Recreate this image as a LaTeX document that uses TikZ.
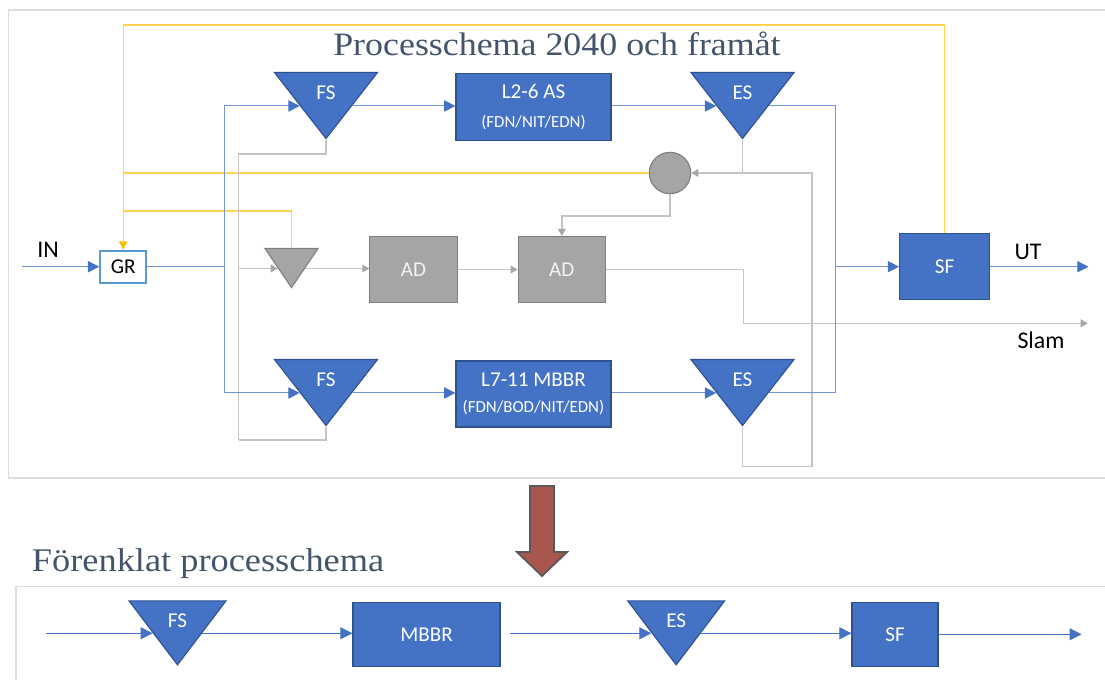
\documentclass[tikz,border=0pt]{standalone}
\usepackage{fontspec}
\setmainfont{Carlito}
\newfontfamily\titlefont[FakeStretch=1.1]{Liberation Serif}
\usetikzlibrary{positioning,shapes.geometric,arrows.meta}
\definecolor{procblue}{HTML}{4472C4}
\definecolor{procedge}{HTML}{2F528F}
\definecolor{waterline}{HTML}{7094D6}
\definecolor{sludgegray}{HTML}{A5A5A5}
\definecolor{sludgeedge}{HTML}{7F7F7F}
\definecolor{sludgetext}{HTML}{F2F2F2}
\definecolor{sludgeline}{HTML}{C4C4C4}
\definecolor{sludgetip}{HTML}{A6A6A6}
\definecolor{rejectline}{HTML}{FFD34F}
\definecolor{rejecttip}{HTML}{FFC000}
\definecolor{grbox}{HTML}{5B9BD5}
\definecolor{framegray}{HTML}{DEDEDE}
\definecolor{headcol}{HTML}{44546A}
\definecolor{downred}{HTML}{A9564E}
\definecolor{downedge}{HTML}{595959}

\begin{document}
\begin{tikzpicture}[x=0.025cm, y=-0.025cm,
  lbl/.style={font=\fontsize{15}{18}\selectfont},
  side/.style={font=\fontsize{17}{20}\selectfont},
  heading/.style={font=\titlefont\fontsize{23.5}{28}\selectfont, text=headcol},
  bluebox/.style={rectangle, fill=procblue, draw=procedge, line width=0.8pt, text=white, lbl, inner sep=0pt},
  graybox/.style={rectangle, fill=sludgegray, draw=sludgeedge, line width=0.8pt, text=sludgetext, lbl, minimum width=2.18cm, minimum height=1.65cm},
  basin/.style={isosceles triangle, isosceles triangle stretches, shape border rotate=270, inner sep=0pt, fill=procblue, draw=procedge, line width=0.8pt, minimum width=2.575cm, minimum height=1.65cm, anchor=apex},
  smallbasin/.style={basin, minimum width=2.425cm, minimum height=1.6cm},
  thickener/.style={basin, fill=sludgegray, draw=sludgeedge, minimum width=1.325cm, minimum height=0.975cm},
  tritext/.style={text=white, lbl},
  water/.style={draw=waterline, line width=0.7pt},
  waterarrow/.style={water, -{Triangle[length=8pt,width=8pt,color=procblue]}},
  simplearrow/.style={draw=procblue, line width=0.7pt, -{Triangle[length=8.5pt,width=8.5pt]}},
  sludge/.style={draw=sludgeline, line width=1pt},
  sludgearrow/.style={sludge, -{Triangle[length=5pt,width=5.5pt,color=sludgetip]}},
  reject/.style={draw=rejectline, line width=0.9pt},
  rejectarrow/.style={reject, -{Triangle[length=6pt,width=6pt,color=rejecttip]}},
  frame/.style={draw=framegray, line width=1pt}
]
\useasboundingbox (0,0) rectangle (1105,679);
\draw[frame] (8.6,10) rectangle (1115,478);
\draw[frame] (16,586.7) rectangle (1115,690);

\node[heading, anchor=base, font=\titlefont\fontsize{23.2}{28}\selectfont] (title) at (557,55) {Processchema 2040 och framåt};
\node[heading, anchor=base west] (title2) at (27,571) {Förenklat processchema};

\node[side, anchor=base] (inlbl) at (48,257) {IN};
\coordinate (src) at (22,266.7);
\node[rectangle, draw=grbox, line width=1.4pt, minimum width=1.15cm, minimum height=0.8cm, inner sep=0pt, lbl] (gr) at (123.2,266.7) {GR};
\coordinate (split) at (224,266.7);
\node[basin] (fs1) at (326,140) {};
\node[tritext] (fs1txt) at ([yshift=33.3pt]fs1.apex) {FS};
\node[basin] (fs2) at (326,427) {};
\node[tritext] (fs2txt) at ([yshift=33.3pt]fs2.apex) {FS};
\node[bluebox, minimum width=3.875cm, minimum height=1.675cm, align=center] (as) at (533.5,107) {L2-6 AS\\[2pt]{\fontsize{12}{14}\selectfont (FDN/NIT/EDN)}};
\node[bluebox, minimum width=3.875cm, minimum height=1.65cm, align=center] (mbbr) at (533.5,394) {L7-11 MBBR\\[1pt]{\fontsize{12}{14}\selectfont (FDN/BOD/NIT/EDN)}};
\node[basin] (es1) at (742.5,140) {};
\node[tritext] (es1txt) at ([yshift=33.3pt]es1.apex) {ES};
\node[basin] (es2) at (742.5,427) {};
\node[tritext] (es2txt) at ([yshift=33.3pt]es2.apex) {ES};
\coordinate (merge) at (835,266.7);
\node[bluebox, minimum width=2.25cm, minimum height=1.65cm] (sf) at (944.6,266.7) {SF};
\coordinate (utend) at (1088.5,266.7);
\node[side, anchor=base] (utlbl) at (1028,259) {UT};

\node[thickener] (th) at (291.5,289) {};
\node[graybox] (ad1) at (413.5,269.5) {AD};
\node[graybox] (ad2) at (561.8,269.5) {AD};
\node[circle, fill=sludgegray, draw=sludgeedge, line width=0.8pt, minimum size=1.035cm, inner sep=0pt] (mix) at (670,173) {};
\coordinate (slambend) at (743.6,323.3);
\coordinate (slamend) at (1087.7,323.3);
\node[side, anchor=base] (slamlbl) at (1041,348) {Slam};
\coordinate (fsj1) at (238.6,154);
\coordinate (fsj2) at (238.6,440);
\coordinate (esj) at (812,466.7);
\coordinate (mixj) at (561.8,216);
\coordinate (ytop) at (123.2,25);
\coordinate (yj) at (123.2,211);

\draw[reject] (mix) -- (mix -| gr.north);
\draw[reject] (th.north) |- (yj);
\draw[rejectarrow] (sf.north) |- (ytop) -- (gr.north);

\draw[sludge] (fs1.apex) |- (fsj1) -- (fsj2);
\draw[sludge] (fs2.apex) |- (fsj2);
\draw[sludgearrow] (fsj1 |- th.right side) -- (th.right side);
\draw[sludgearrow] (th.left side) -- (th.left side -| ad1.west);
\draw[sludgearrow] (ad1) -- (ad2);
\draw[sludgearrow] (ad2) -| (slambend) -- (slamend);
\draw[sludge] (es1.apex) -- (es1.apex |- mix);
\draw[sludgearrow] (es2.apex) |- (esj) |- (mix);
\draw[sludgearrow] (mix) |- (mixj) -- (ad2);

\draw[waterarrow] (src) -- (gr);
\draw[water] (gr) -- (split);
\draw[waterarrow] (split) |- (fs1.right side);
\draw[waterarrow] (split) |- (fs2.right side);
\draw[waterarrow] (fs1.left side) -- (fs1.left side -| as.west);
\draw[waterarrow] (fs2.left side) -- (fs2.left side -| mbbr.west);
\draw[waterarrow] (as.east |- es1.right side) -- (es1.right side);
\draw[waterarrow] (mbbr.east |- es2.right side) -- (es2.right side);
\draw[water] (es1.left side) -| (merge);
\draw[water] (es2.left side) -| (merge);
\draw[waterarrow] (merge) -- (sf);
\draw[waterarrow] (sf) -- (utend);

\draw[fill=downred, draw=downedge, line width=1.3pt] (530,486) -- (554,486) -- (554,552) -- (567,552) -- (542,576) -- (517,552) -- (530,552) -- cycle;

\coordinate (s0) at (45.7,634.3);
\node[smallbasin] (sfs) at (177.5,666.3) {};
\node[tritext] (sfstxt) at ([yshift=32.3pt]sfs.apex) {FS};
\node[bluebox, minimum width=3.675cm, minimum height=1.6cm] (smbbr) at (426.5,634.3) {MBBR};
\node[smallbasin] (ses) at (676.2,666.3) {};
\node[tritext] (sestxt) at ([yshift=32.3pt]ses.apex) {ES};
\node[bluebox, minimum width=2.15cm, minimum height=1.6cm] (ssf) at (895,634.3) {SF};
\coordinate (s5) at (1081.6,634.3);
\draw[simplearrow] (s0 |- sfs.right side) -- (sfs.right side);
\draw[simplearrow] (sfs.left side) -- (sfs.left side -| smbbr.west);
\draw[simplearrow, shorten <=0.225cm] (smbbr.east |- ses.right side) -- (ses.right side);
\draw[simplearrow] (ses.left side) -- (ses.left side -| ssf.west);
\draw[simplearrow] (ssf) -- (s5);
\end{tikzpicture}
\end{document}
